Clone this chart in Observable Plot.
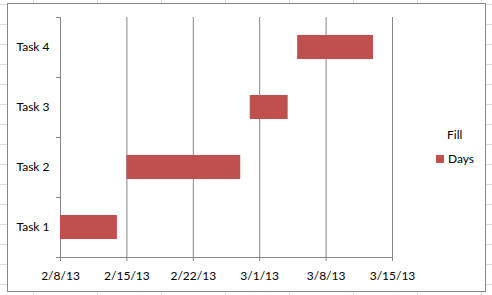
<!DOCTYPE html>
<html>
<head>
<meta charset="utf-8">
<script src="https://cdn.jsdelivr.net/npm/d3@7"></script>
<script src="https://cdn.jsdelivr.net/npm/@observablehq/plot@0.6"></script>
<style>
  html, body { margin: 0; padding: 0; }
  body {
    width: 492px; height: 295px; position: relative; overflow: hidden;
    background-color: #fff;
    background-image:
      linear-gradient(to right, #dcdcdc 1px, transparent 1px),
      linear-gradient(to bottom, #dcdcdc 1px, transparent 1px);
    background-size: 64px 20px, 64px 20px;
    background-position: 33px 4px, 33px 4px;
    font-family: Lato, "Open Sans", sans-serif;
  }
  #frame {
    position: absolute; left: 7px; top: 3px; width: 477px; height: 287px;
    border: 1px solid #878787; background: #fff;
  }
  #chart { position: absolute; left: 0; top: 0; }
  #legend { position: absolute; left: 0; top: 0; font-size: 12px; color: #000; }
  #legend .title { position: absolute; left: 447px; top: 127px; white-space: nowrap; }
  #legend .sw { position: absolute; left: 436px; top: 155px; width: 8px; height: 8px; }
  #legend .lab { position: absolute; left: 448px; top: 151px; white-space: nowrap; }
</style>
</head>
<body>
<div id="frame"></div>
<div id="chart"></div>
<div id="legend"></div>
<script>
// Data
const tasks = ["Task 1", "Task 2", "Task 3", "Task 4"];
const startDates = ["2013-02-08", "2013-02-15", "2013-02-28", "2013-03-05"];
const durations = [6, 12, 4, 8];
const tickDates = ["2013-02-08", "2013-02-15", "2013-02-22", "2013-03-01", "2013-03-08", "2013-03-15"];
const tickLabels = ["2/8/13", "2/15/13", "2/22/13", "3/1/13", "3/8/13", "3/15/13"];
const seriesName = "Days";
const legendTitle = "Fill";

const barColor = "#C0504D";
const gridColor = "#868686";
const DAY = 24 * 3600 * 1000;

const ticks = tickDates.map(d => new Date(d + "T00:00:00Z"));
const rows = tasks.map((t, i) => {
  const s = new Date(startDates[i] + "T00:00:00Z");
  return { task: t, idx: i, start: s, end: new Date(+s + durations[i] * DAY) };
});
const labelFor = new Map(ticks.map((d, i) => [+d, tickLabels[i]]));

const chart = Plot.plot({
  width: 492,
  height: 295,
  marginLeft: 60,
  marginRight: 100,
  marginTop: 17,
  marginBottom: 38,
  style: { background: "transparent", fontFamily: "Lato, 'Open Sans', sans-serif", fontSize: "12px", color: "#000" },
  x: { type: "utc", domain: [ticks[0], ticks[ticks.length - 1]], label: null },
  y: { type: "linear", domain: [0, tasks.length], label: null },
  marks: [
    Plot.ruleX(ticks, { x: d => d, stroke: gridColor, strokeWidth: 1, strokeOpacity: 1 }),
    Plot.ruleY([0], { stroke: gridColor, strokeWidth: 1, strokeOpacity: 1 }),
    Plot.rect(rows, { x1: "start", x2: "end", y1: d => d.idx + 0.3, y2: d => d.idx + 0.7, fill: barColor }),
    Plot.axisX({ ticks: ticks, tickSize: 4, tickPadding: 10, stroke: gridColor, strokeOpacity: 1, tickFormat: d => labelFor.get(+d), fill: "#000", fontSize: 12 }),
    Plot.axisY({ ticks: d3.range(tasks.length + 1), tickSize: 4, tickFormat: () => "", stroke: gridColor, strokeOpacity: 1 }),
    Plot.axisY({ ticks: tasks.map((t, i) => i + 0.5), tickSize: 0, tickPadding: 11, tickFormat: v => tasks[Math.floor(v)], fill: "#000", fontSize: 12 })
  ]
});
document.getElementById("chart").appendChild(chart);

const legend = document.getElementById("legend");
legend.innerHTML =
  `<div class="title">${legendTitle}</div>` +
  `<div class="sw" style="background:${barColor}"></div>` +
  `<div class="lab">${seriesName}</div>`;
</script>
</body>
</html>
